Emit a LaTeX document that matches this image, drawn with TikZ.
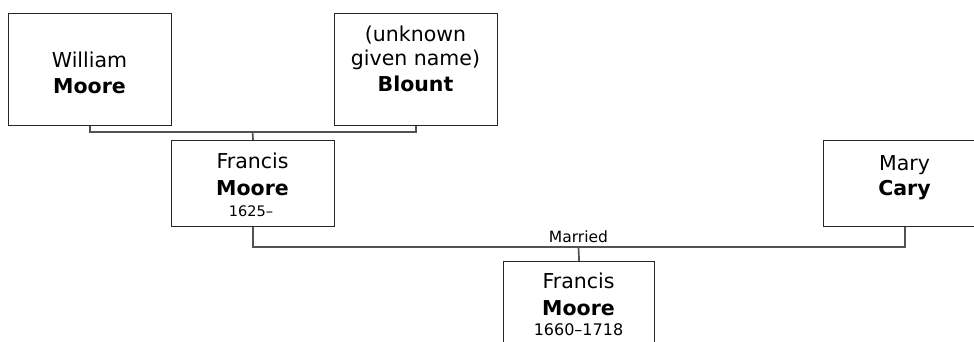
\documentclass[tikz,border=0pt]{standalone}
\usepackage{fontspec}
\setmainfont{DejaVu Sans}
\begin{document}
\begin{tikzpicture}[x=1pt,y=-1pt,
  person/.style={draw=black!85, line width=1.2pt, inner sep=0pt, anchor=north west, minimum width=163pt, minimum height=86pt},
  conn/.style={draw=black!68, line width=1.7pt},
  given/.style={font=\fontsize{20.5}{24}\selectfont, anchor=base, inner sep=0pt},
  surname/.style={font=\fontsize{20.5}{24}\selectfont\bfseries, anchor=base, inner sep=0pt},
  dates/.style={font=\fontsize{14.5}{17}\selectfont, anchor=base, inner sep=0pt},
  lbl/.style={font=\fontsize{15.5}{18}\selectfont, anchor=base, inner sep=0pt}]
\useasboundingbox (0,0) rectangle (974,342);
% boxes
\node[person, minimum height=112pt] (william) at (8,13) {};
\node[person, minimum height=112pt] (blount) at (334,13) {};
\node[person] (francis) at (171,140) {};
\node[person] (mary) at (823,140) {};
\node[person, minimum width=151pt, minimum height=100pt] (child) at (503,261) {};
% connector points
\coordinate (p1) at (252.5,132);
\coordinate (p2) at (578.5,247);
\draw[conn] (william.south) |- (p1) -| (blount.south);
\draw[conn] (p1) -- (francis.north);
\draw[conn] (francis.south) |- (p2) -| (mary.south);
\draw[conn] (p2) -- (child.north);
\node[lbl] (married) at (578.5,242) {Married};
% texts
\node[given] (t1) at (89.5,68) {William};
\node[surname] (t2) at (89.5,94) {Moore};
\node[given] (t3) at (415.5,42) {(unknown};
\node[given] (t4) at (415.5,66) {given name)};
\node[surname] (t5) at (415.5,92) {Blount};
\node[given] (t6) at (252.5,168) {Francis};
\node[surname] (t7) at (252.5,195) {Moore};
\node[dates] (t8) at (251,216) {1625–};
\node[given] (t9) at (904.5,170) {Mary};
\node[surname] (t10) at (904.5,195) {Cary};
\node[given] (t11) at (578.5,288) {Francis};
\node[surname] (t12) at (578.5,315) {Moore};
\node[dates, font=\fontsize{16}{19}\selectfont] (t13) at (578.5,335) {1660–1718};
\end{tikzpicture}
\end{document}
